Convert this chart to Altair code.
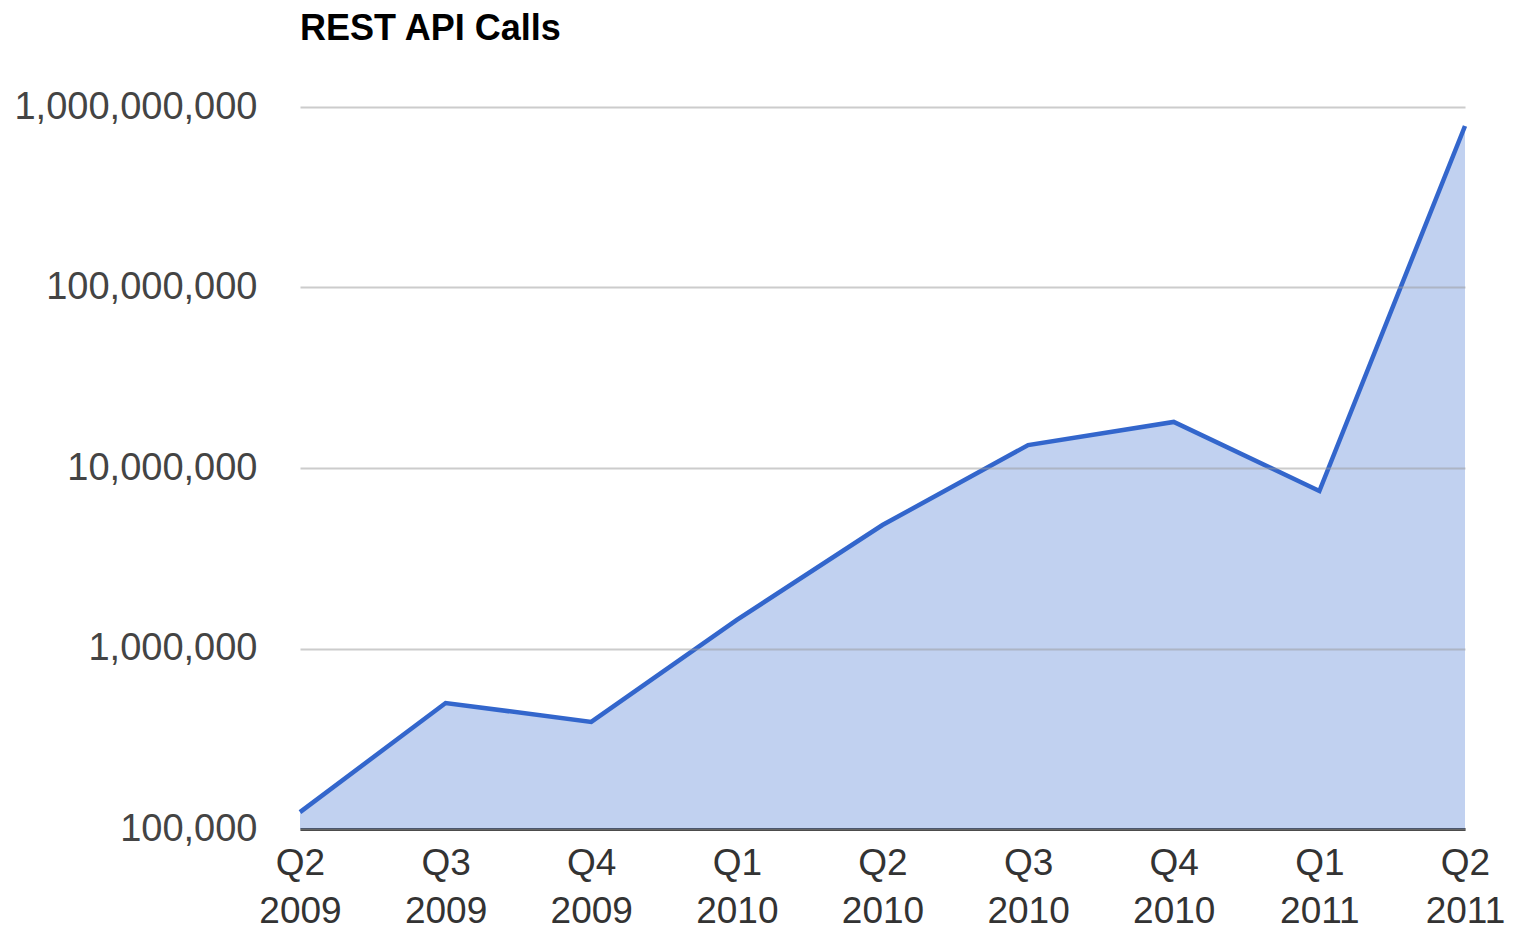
import altair as alt
import pandas as pd

quarters = ["Q2 2009", "Q3 2009", "Q4 2009", "Q1 2010", "Q2 2010",
            "Q3 2010", "Q4 2010", "Q1 2011", "Q2 2011"]
calls = [124000, 499000, 392000, 1440000, 4830000,
         13400000, 18000000, 7460000, 785000000]
y_ticks = [100000, 1000000, 10000000, 100000000, 1000000000]

df = pd.DataFrame({"quarter": quarters, "calls": calls})

font = "Liberation Sans"

x_enc = alt.X("quarter:N", sort=quarters,
              scale=alt.Scale(type="point", padding=0),
              axis=alt.Axis(title=None, labelAngle=0,
                            labelExpr="split(datum.value, ' ')",
                            labelFontSize=37, labelFont=font, labelColor="#333",
                            labelLineHeight=48, labelPadding=16, labelLimit=0,
                            ticks=False, domainColor="#333", domainWidth=3,
                            grid=False, labelAlign="center"))
y_scale = alt.Scale(type="log", domain=[100000, 1000000000])

area = alt.Chart(df).mark_area(color="#3366cc", opacity=0.3).encode(
    x=x_enc,
    y=alt.Y("calls:Q", scale=y_scale,
            axis=alt.Axis(title=None, values=y_ticks, format=",",
                          labelFontSize=38, labelFont=font, labelColor="#444",
                          labelPadding=43, labelLimit=0, ticks=False, domain=False,
                          gridColor="#999", gridOpacity=0.5, gridWidth=2,
                          zindex=1)),
    y2=alt.datum(100000),
)

line = alt.Chart(df).mark_line(color="#3366cc", strokeWidth=4.5).encode(
    x=alt.X("quarter:N", sort=quarters),
    y=alt.Y("calls:Q", scale=y_scale),
)

chart = alt.layer(area, line).properties(
    width=1497, height=921,
    autosize=alt.AutoSizeParams(type="fit", contains="padding"),
    padding={"left": 5, "top": 3, "right": 0, "bottom": 0},
    title=alt.TitleParams("REST API Calls", anchor="start", frame="group",
                          font=font, fontSize=36, fontWeight="bold",
                          color="#000", offset=40),
).configure_view(stroke=None)

chart.save("out.html", embed_options={"renderer": "svg", "actions": False})
